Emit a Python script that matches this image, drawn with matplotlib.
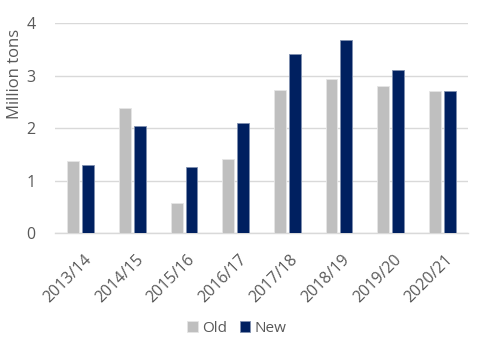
import matplotlib.pyplot as plt
import numpy as np
from matplotlib.transforms import ScaledTranslation

plt.rcParams['font.family'] = ['Open Sans', 'DejaVu Sans']

seasons = ['2013/14', '2014/15', '2015/16', '2016/17',
           '2017/18', '2018/19', '2019/20', '2020/21']
old_vals = [1.38, 2.38, 0.57, 1.42, 2.72, 2.93, 2.80, 2.70]
new_vals = [1.29, 2.04, 1.25, 2.09, 3.42, 3.68, 3.10, 2.70]

txt = '#595959'
grid_col = '#D9D9D9'

fig = plt.figure(figsize=(4.91, 3.48), dpi=100)
ax = fig.add_axes([55 / 491, 1 - 233 / 348, 413 / 491, (233 - 23.3) / 348])

x = np.arange(len(seasons))
w = 0.23
off = 0.145
ax.bar(x - off, old_vals, w, color='#BFBFBF', edgecolor='#E6E6E6', linewidth=0.6, label='Old', zorder=3)
ax.bar(x + off, new_vals, w, color='#002060', edgecolor='#8090B0', linewidth=0.6, label='New', zorder=3)

ax.set_xlim(-0.5, len(seasons) - 0.5)
ax.set_ylim(0, 4)
ax.set_yticks([0, 1, 2, 3, 4])
ax.yaxis.grid(True, color=grid_col, linewidth=1, zorder=0)
for s in ['top', 'right', 'left']:
    ax.spines[s].set_visible(False)
ax.spines['bottom'].set_color(grid_col)
ax.spines['bottom'].set_linewidth(1)
ax.tick_params(axis='both', length=0, colors=txt, labelsize=11.5)
ax.tick_params(axis='y', pad=14)

ax.set_xticks(x)
ax.set_xticklabels(seasons, rotation=45, ha='right', va='top', rotation_mode='anchor')
shift = ScaledTranslation(2 / 72, -10 / 72, fig.dpi_scale_trans)
for lbl in ax.get_xticklabels():
    lbl.set_transform(lbl.get_transform() + shift)

fig.text(15 / 491, 1 - 74 / 348, 'Million tons', rotation=90, color=txt,
         fontsize=12, ha='center', va='center')

fig.legend(loc='center', bbox_to_anchor=(237 / 491, 1 - 328 / 348), ncol=2, frameon=False,
           fontsize=11, labelcolor=txt, handlelength=0.7, handleheight=0.7,
           handletextpad=0.3, columnspacing=0.8)

fig.savefig('out.png', dpi=100)
